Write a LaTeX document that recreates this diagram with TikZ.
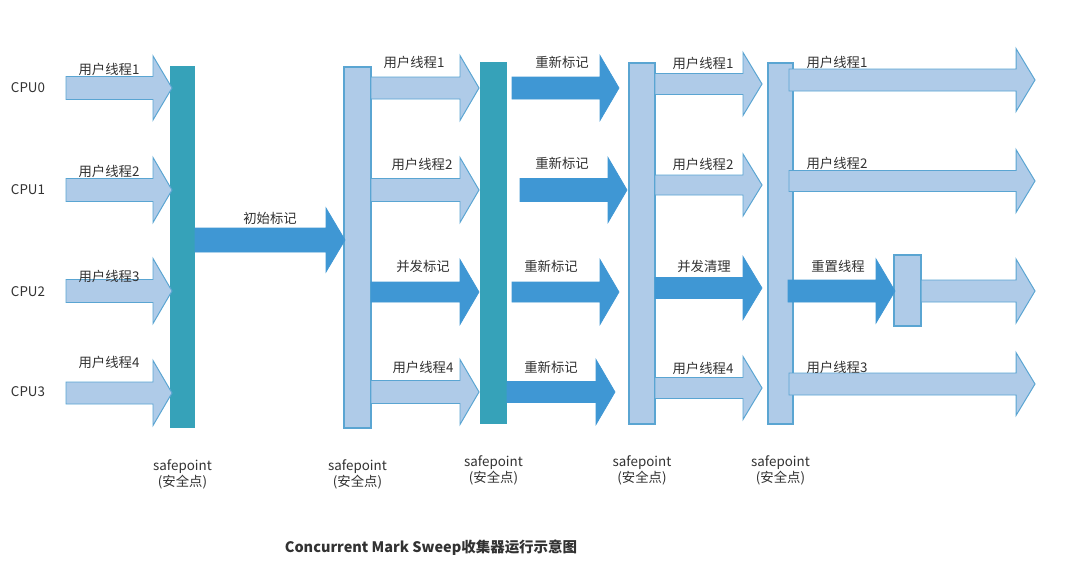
\documentclass[tikz,border=0pt]{standalone}
\usepackage{fontspec}
\setmainfont{Noto Sans CJK SC}
\usetikzlibrary{positioning}
\usetikzlibrary{fit}
\definecolor{barteal}{RGB}{54,162,185}
\definecolor{lightfill}{RGB}{175,203,232}
\definecolor{lightedge}{RGB}{90,165,210}
\definecolor{darkblue}{RGB}{63,151,212}
\definecolor{textgray}{RGB}{50,50,50}
\tikzset{darkbar/.style={rectangle,fill=barteal,inner sep=0pt,outer sep=0pt}}
\tikzset{lightbar/.style={rectangle,draw=lightedge,fill=lightfill,line width=0.8pt,inner sep=0pt,outer sep=0pt}}
\tikzset{lightarrow/.style={draw=lightedge,fill=lightfill,line width=0.7pt}}
\tikzset{darkarrow/.style={draw=darkblue,fill=darkblue,line width=0.5pt}}
\tikzset{lbl/.style={text=textgray,font=\fontsize{9.5}{12}\selectfont,inner sep=0pt}}
\tikzset{splabel/.style={lbl,align=center}}

% block arrow: [style]{x start}{x tip}{y}{half shaft}{half head}
\newcommand{\blockarrow}[6][lightarrow]{%
  \draw[#1] (#2,#4-#5) -- (#3-19,#4-#5) -- (#3-19,#4-#6) -- (#3,#4)
    -- (#3-19,#4+#6) -- (#3-19,#4+#5) -- (#2,#4+#5) -- cycle;
}

\begin{document}
\begin{tikzpicture}[x=0.025cm,y=-0.025cm]
  \useasboundingbox[fill=white] (0,0) rectangle (1080,567);

  % safepoints
  \node[darkbar,fit={(170,66) (195,428)}] (sp1) {};
  \node[lightbar,fit={(344,67) (371,428)}] (sp2) {};
  \node[darkbar,fit={(480,62) (507,424)}] (sp3) {};
  \node[lightbar,fit={(629,63) (655,424)}] (sp4) {};
  \node[lightbar,fit={(768,63) (793,424)}] (sp5) {};
  \node[lightbar,fit={(894,255) (921,326)}] (rs) {};

  \foreach \b in {1,...,5}
  {
    \node[splabel,below=22pt of sp\b] (sl\b) {safepoint\\(安全点)};
  }

  % CPUs
  \node[lbl] (cpu0) at (28,88) {CPU0};
  \node[lbl] (cpu1) at (28,190) {CPU1};
  \node[lbl] (cpu2) at (28,292) {CPU2};
  \node[lbl] (cpu3) at (28,392) {CPU3};

  % Before the first safepoint
  \blockarrow{66}{172}{88}{11.5}{32}
  \blockarrow{66}{172}{190}{11.5}{32.5}
  \blockarrow{66}{172}{291}{11.5}{32.5}
  \blockarrow{66}{172}{393}{11}{32.5}
  \node[lbl] (t01) at (109,69) {用户线程1};
  \node[lbl] (t02) at (109,171) {用户线程2};
  \node[lbl] (t03) at (109,276) {用户线程3};
  \node[lbl] (t04) at (109,362) {用户线程4};

  % Initial mark
  \blockarrow[darkarrow]{195}{345}{240}{12}{32}
  \node[lbl] (im) at (270,218) {初始标记};

  % Concurrent mark
  \blockarrow{371}{479}{88}{11}{32.5}
  \blockarrow{371}{479}{190}{11.5}{32.5}
  \blockarrow[darkarrow]{371}{479}{292}{10}{32.5}
  \blockarrow{371}{479}{392}{11.5}{32.5}
  \node[lbl] (t21) at (414,62) {用户线程1};
  \node[lbl] (t22) at (422,164) {用户线程2};
  \node[lbl] (cm) at (423,266) {并发标记};
  \node[lbl] (t24) at (423,367) {用户线程4};

  % Remark
  \blockarrow[darkarrow]{512}{619}{88}{11}{32.5}
  \blockarrow[darkarrow]{520}{627}{190}{11.5}{32.5}
  \blockarrow[darkarrow]{512}{619}{292}{10}{32.5}
  \blockarrow[darkarrow]{507}{615}{392}{10.5}{32.5}
  \node[lbl] (rm1) at (562,62) {重新标记};
  \node[lbl] (rm2) at (562,163) {重新标记};
  \node[lbl] (rm3) at (551,266) {重新标记};
  \node[lbl] (rm4) at (551,367) {重新标记};

  % Concurrent sweep
  \blockarrow{655}{762}{84}{10.5}{31.5}
  \blockarrow{655}{762}{185}{10}{31}
  \blockarrow[darkarrow]{655}{762}{288}{10.5}{31.5}
  \blockarrow{655}{762}{388}{10.5}{31.5}
  \node[lbl] (t41) at (703,63) {用户线程1};
  \node[lbl] (t42) at (703,164) {用户线程2};
  \node[lbl] (cs) at (704,266) {并发清理};
  \node[lbl] (t44) at (703,368) {用户线程4};

  % Reset
  \blockarrow{789}{1035}{80}{11}{31.5}
  \blockarrow{789}{1035}{181}{10.5}{31.5}
  \blockarrow[darkarrow]{788}{895}{291}{11}{32}
  \blockarrow{921}{1035}{291}{11}{32}
  \blockarrow{789}{1035}{384}{11}{31.5}
  \node[lbl] (t51) at (837,62) {用户线程1};
  \node[lbl] (t52) at (837,163) {用户线程2};
  \node[lbl] (rt) at (838,266) {重置线程};
  \node[lbl] (t53) at (837,367) {用户线程3};

  % Title
  \node[text=textgray,font=\fontsize{10.3}{13}\bfseries] (title) at (431,548) {Concurrent Mark Sweep收集器运行示意图};
\end{tikzpicture}
\end{document}
